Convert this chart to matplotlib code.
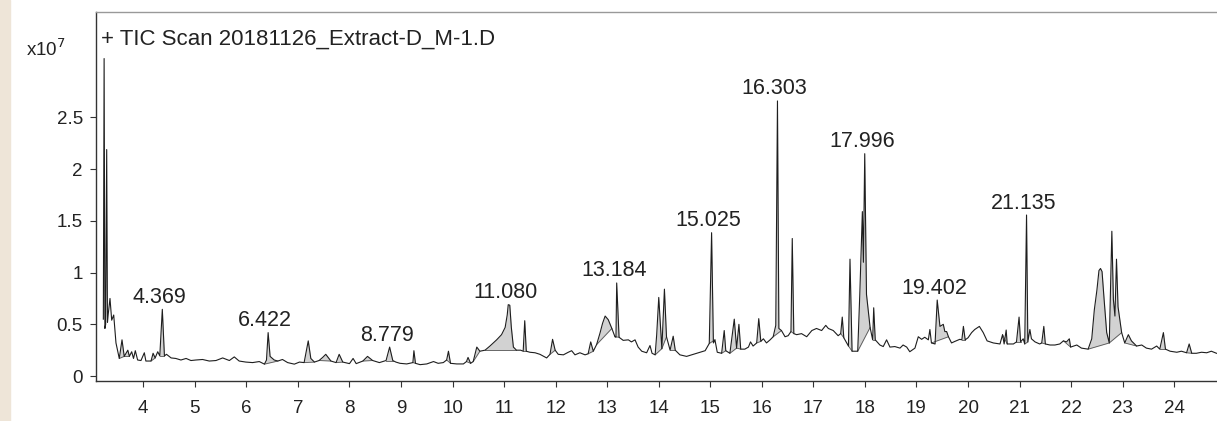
import numpy as np
import matplotlib
matplotlib.use("Agg")
import matplotlib.pyplot as plt

plt.rcParams['font.family'] = ['Liberation Sans', 'DejaVu Sans']

# retention time (min) and TIC (x10^7 counts)
rt = [3.225, 3.24, 3.255, 3.27, 3.29, 3.305, 3.32, 3.354, 3.387, 3.426, 3.47, 3.534, 3.587, 3.63,
      3.70, 3.73, 3.775, 3.81, 3.845, 3.89, 3.955, 4.02, 4.05, 4.15, 4.19, 4.23, 4.28, 4.32, 4.369,
      4.41, 4.45, 4.54, 4.63, 4.73, 4.83, 4.925, 5.02, 5.15, 5.28, 5.41, 5.54, 5.67, 5.765, 5.86,
      5.99, 6.12, 6.25, 6.35, 6.39, 6.422, 6.46, 6.54, 6.61, 6.70, 6.80, 6.93, 7.03, 7.12, 7.20,
      7.25, 7.32, 7.41, 7.48, 7.54, 7.64, 7.74, 7.80, 7.87, 8.00, 8.07, 8.13, 8.26, 8.35, 8.45,
      8.58, 8.71, 8.779, 8.84, 8.90, 8.98, 9.11, 9.23, 9.25, 9.28, 9.37, 9.50, 9.63, 9.72, 9.82,
      9.885, 9.92, 9.96, 10.08, 10.21, 10.27, 10.30, 10.35, 10.40, 10.47, 10.53, 10.63, 10.725,
      10.855, 10.95, 11.02, 11.06, 11.08, 11.11, 11.14, 11.18, 11.24, 11.32, 11.37, 11.40, 11.43,
      11.50, 11.60, 11.695, 11.825, 11.89, 11.94, 11.99, 12.05, 12.15, 12.245, 12.31, 12.375,
      12.47, 12.57, 12.63, 12.68, 12.73, 12.795, 12.86, 12.91, 12.96, 13.02, 13.09, 13.15, 13.17,
      13.184, 13.23, 13.31, 13.41, 13.47, 13.54, 13.60, 13.67, 13.765, 13.83, 13.87, 13.93, 13.96,
      14.00, 14.06, 14.11, 14.15, 14.22, 14.28, 14.32, 14.41, 14.54, 14.67, 14.80, 14.90, 14.98,
      15.025, 15.06, 15.09, 15.135, 15.22, 15.27, 15.30, 15.38, 15.465, 15.51, 15.555, 15.59,
      15.67, 15.74, 15.78, 15.83, 15.90, 15.94, 15.98, 16.03, 16.09, 16.16, 16.22, 16.27, 16.303,
      16.33, 16.38, 16.45, 16.51, 16.565, 16.59, 16.62, 16.675, 16.77, 16.87, 16.97, 17.06, 17.16,
      17.24, 17.29, 17.385, 17.48, 17.53, 17.56, 17.59, 17.645, 17.68, 17.71, 17.75, 17.86, 17.90,
      17.95, 17.97, 17.996, 18.03, 18.10, 18.15, 18.17, 18.20, 18.29, 18.355, 18.42, 18.485,
      18.58, 18.68, 18.74, 18.81, 18.87, 18.97, 19.035, 19.10, 19.16, 19.23, 19.26, 19.29, 19.36,
      19.402, 19.455, 19.52, 19.55, 19.585, 19.62, 19.68, 19.745, 19.84, 19.88, 19.91, 19.945,
      20.00, 20.07, 20.13, 20.22, 20.295, 20.37, 20.49, 20.62, 20.67, 20.70, 20.74, 20.76, 20.88,
      20.94, 20.99, 21.02, 21.07, 21.10, 21.135, 21.16, 21.20, 21.23, 21.30, 21.39, 21.43, 21.47,
      21.50, 21.59, 21.685, 21.78, 21.85, 21.91, 21.965, 21.99, 22.11, 22.20, 22.33, 22.40, 22.45,
      22.50, 22.54, 22.57, 22.60, 22.64, 22.69, 22.74, 22.79, 22.82, 22.85, 22.88, 22.91, 22.98,
      23.04, 23.11, 23.17, 23.27, 23.37, 23.46, 23.56, 23.66, 23.72, 23.79, 23.83, 23.92, 24.05,
      24.14, 24.24, 24.29, 24.34, 24.43, 24.53, 24.63, 24.72, 24.82]
tic = [0.55, 3.07, 0.46, 0.50, 2.19, 0.52, 0.60, 0.75, 0.54, 0.59, 0.32, 0.17, 0.35, 0.19,
       0.25, 0.19, 0.235, 0.17, 0.245, 0.155, 0.15, 0.225, 0.145, 0.145, 0.22, 0.175, 0.235, 0.195, 0.645,
       0.195, 0.21, 0.175, 0.17, 0.155, 0.17, 0.15, 0.155, 0.16, 0.145, 0.15, 0.175, 0.15, 0.185, 0.145,
       0.135, 0.13, 0.14, 0.115, 0.155, 0.42, 0.19, 0.155, 0.145, 0.16, 0.13, 0.115, 0.135, 0.13, 0.34,
       0.17, 0.135, 0.15, 0.18, 0.21, 0.145, 0.13, 0.21, 0.135, 0.12, 0.17, 0.12, 0.145, 0.19, 0.15,
       0.13, 0.15, 0.28, 0.15, 0.135, 0.123, 0.117, 0.13, 0.245, 0.123, 0.11, 0.117, 0.14, 0.123, 0.13,
       0.155, 0.24, 0.123, 0.117, 0.117, 0.14, 0.18, 0.123, 0.14, 0.28, 0.24, 0.25, 0.29,
       0.35, 0.40, 0.47, 0.59, 0.69, 0.685, 0.47, 0.28, 0.25, 0.25, 0.24, 0.535, 0.24,
       0.23, 0.225, 0.21, 0.175, 0.21, 0.355, 0.25, 0.21, 0.205, 0.23, 0.245, 0.205,
       0.225, 0.205, 0.215, 0.33, 0.24, 0.305, 0.415, 0.51, 0.58, 0.545, 0.46, 0.38, 0.375,
       0.90, 0.375, 0.345, 0.35, 0.33, 0.35, 0.28, 0.24, 0.225, 0.295, 0.22, 0.205, 0.40,
       0.76, 0.265, 0.84, 0.38, 0.25, 0.385, 0.25, 0.205, 0.19, 0.21, 0.23, 0.245, 0.315,
       1.386, 0.32, 0.35, 0.23, 0.22, 0.44, 0.245, 0.22, 0.55, 0.27, 0.50, 0.26,
       0.26, 0.28, 0.33, 0.29, 0.32, 0.555, 0.335, 0.36, 0.32, 0.35, 0.38, 0.49, 2.66,
       0.46, 0.44, 0.38, 0.39, 0.43, 1.33, 0.41, 0.40, 0.41, 0.38, 0.44, 0.46, 0.44,
       0.49, 0.46, 0.44, 0.39, 0.41, 0.57, 0.37, 0.32, 0.29, 1.13, 0.24, 0.24, 0.79,
       1.59, 1.10, 2.15, 0.79, 0.47, 0.35, 0.66, 0.35, 0.30, 0.285, 0.35, 0.28,
       0.285, 0.27, 0.30, 0.28, 0.235, 0.27, 0.38, 0.355, 0.375, 0.35, 0.45, 0.32, 0.31,
       0.735, 0.48, 0.50, 0.43, 0.43, 0.38, 0.32, 0.335, 0.355, 0.35, 0.48, 0.35,
       0.37, 0.42, 0.45, 0.48, 0.42, 0.34, 0.32, 0.31, 0.40, 0.31, 0.445, 0.31, 0.31,
       0.33, 0.57, 0.33, 0.36, 0.31, 1.557, 0.33, 0.45, 0.36, 0.33, 0.31, 0.32, 0.48,
       0.31, 0.30, 0.30, 0.31, 0.34, 0.33, 0.36, 0.28, 0.30, 0.27, 0.26, 0.36, 0.64,
       0.83, 1.02, 1.04, 1.01, 0.74, 0.42, 0.32, 1.40, 0.74, 0.58, 1.13, 0.67, 0.42,
       0.32, 0.40, 0.34, 0.29, 0.30, 0.27, 0.26, 0.29, 0.26, 0.42, 0.26, 0.24, 0.23,
       0.24, 0.225, 0.31, 0.22, 0.22, 0.23, 0.225, 0.24, 0.22]

# integrated peaks (start, end) -> shaded grey
fill_start = [3.534, 3.63, 4.15, 4.32, 6.35, 7.12, 7.41, 7.74, 8.26, 8.71, 9.23, 9.885, 10.27,
              10.40, 10.63, 11.37, 11.89, 12.63, 12.795, 13.15, 13.93, 14.06, 14.22, 14.98,
              15.22, 15.38, 15.51, 15.90, 16.22, 16.565, 17.53, 17.68, 17.86, 18.15, 19.29,
              19.88, 20.67, 20.94, 21.10, 21.43, 21.85, 22.33, 22.74, 23.04, 23.72, 24.24]
fill_end = [3.63, 3.73, 4.23, 4.41, 6.61, 7.32, 7.64, 7.87, 8.45, 8.84, 9.28, 9.96, 10.35,
            10.53, 11.24, 11.43, 11.99, 12.73, 13.09, 13.23, 14.06, 14.15, 14.32, 15.09,
            15.30, 15.51, 15.59, 15.98, 16.38, 16.62, 17.59, 17.75, 18.10, 18.20, 19.62,
            19.945, 20.76, 21.02, 21.16, 21.50, 21.99, 22.74, 22.98, 23.27, 23.83, 24.34]

peak_labels = [4.369, 6.422, 8.779, 11.080, 13.184, 15.025, 16.303, 17.996, 19.402, 21.135]

xticks = list(range(4, 25))
yticks = [0, 0.5, 1, 1.5, 2, 2.5]
ytick_labels = ['0', '0.5', '1', '1.5', '2', '2.5']

rt = np.array(rt)
tic = np.array(tic)

fig = plt.figure(figsize=(12.17, 4.21), dpi=100)
fig.patch.set_facecolor('white')
# beige strip on the far left
fig.patches.append(plt.Rectangle((0, 0), 10 / 1217, 1, transform=fig.transFigure,
                                 color='#eee5d8', zorder=0))

ax = fig.add_axes([96 / 1217, 40 / 421, 1 - 96 / 1217, 369 / 421])

# shaded peak areas
for s, e in zip(fill_start, fill_end):
    m = (rt >= s) & (rt <= e)
    ys = np.interp(s, rt, tic)
    ye = np.interp(e, rt, tic)
    base = np.interp(rt[m], [s, e], [ys, ye])
    ax.fill_between(rt[m], tic[m], base, color='#d2d2d2', lw=0, zorder=1)
    ax.plot([s, e], [ys, ye], color='#555555', lw=0.6, zorder=2)

ax.plot(rt, tic, color='#1e1e1e', lw=0.8, zorder=3)

for p in peak_labels:
    h = np.interp(p, rt, tic)
    ax.annotate('%.3f' % p, (p, h), xytext=(-3, 6.5), textcoords='offset pixels',
                ha='center', va='baseline', fontsize=15.5, color='#222222')

ax.set_xlim(3.0825, 24.83)
ax.set_ylim(-0.048, 3.52)
ax.set_xticks(xticks)
ax.set_xticklabels([str(v) for v in xticks])
ax.set_yticks(yticks)
ax.set_yticklabels(ytick_labels)
ax.tick_params(direction='out', length=4.5, width=0.8, color='#333333',
               labelsize=13.5, labelcolor='#222222')
ax.tick_params(axis='x', pad=9)
ax.tick_params(axis='y', pad=5)

ax.spines['right'].set_visible(False)
ax.spines['top'].set_color('#999999')
ax.spines['left'].set_color('#333333')
ax.spines['bottom'].set_color('#333333')
for sp in ax.spines.values():
    sp.set_linewidth(1.0)

fig.text(101 / 1217, 1 - 45 / 421, '+ TIC Scan 20181126_Extract-D_M-1.D',
         fontsize=16, color='#222222', va='baseline', ha='left')
fig.text(26 / 1217, 1 - 56.5 / 421, r'x10$^{7}$', fontsize=13.5, color='#222222',
         va='baseline', ha='left')

fig.savefig('out.png', dpi=100)
